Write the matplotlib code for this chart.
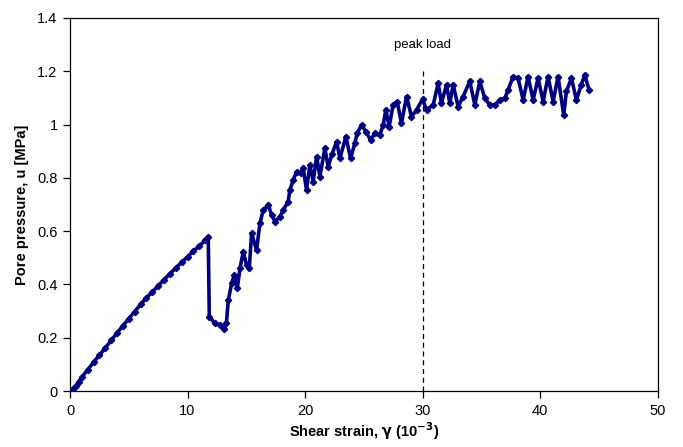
import matplotlib
matplotlib.use("Agg")
import matplotlib.pyplot as plt
from matplotlib.ticker import FuncFormatter

# Shear strain (10^-3)
strain = [0.0, 0.25, 0.5, 0.75, 1.0, 1.5, 2.0, 2.5, 3.0, 3.5, 4.0, 4.5, 5.0, 5.5, 6.0,
          6.5, 7.0, 7.5, 8.0, 8.5, 9.0, 9.5, 10.0, 10.5, 11.0, 11.5, 11.76,
          11.85, 12.33, 12.76, 13.1, 13.3, 13.47, 13.75, 13.97, 14.23, 14.46, 14.74,
          15.02, 15.25, 15.45, 15.87, 16.16, 16.44, 16.87, 17.15, 17.43, 17.86, 18.14,
          18.56, 18.71, 18.99, 19.28, 19.61, 19.84, 20.12, 20.41, 20.69, 20.98, 21.26,
          21.68, 21.96, 22.3, 22.68, 22.96, 23.47, 23.87, 24.23, 24.43, 24.8, 25.17,
          25.57, 25.94, 26.36, 26.64, 26.87, 27.15, 27.49, 27.83, 28.2, 28.63, 29.05,
          29.48, 30.0, 30.33, 30.9, 31.32, 31.6, 32.03, 32.31, 32.6, 33.02, 33.44,
          34.01, 34.44, 34.86, 35.29, 35.71, 36.14, 36.56, 36.99, 37.27, 37.7, 38.12,
          38.55, 38.97, 39.4, 39.82, 40.25, 40.67, 41.1, 41.52, 42.0, 42.23, 42.66,
          43.08, 43.5, 43.79, 44.16]
# Pore pressure u (MPa)
pressure = [0.0, 0.008, 0.02, 0.036, 0.052, 0.08, 0.108, 0.135, 0.162, 0.19, 0.218,
            0.245, 0.272, 0.298, 0.325, 0.35, 0.372, 0.395, 0.418, 0.44, 0.462, 0.483,
            0.504, 0.525, 0.545, 0.565, 0.578,
            0.279, 0.254, 0.248, 0.232, 0.254, 0.342, 0.404, 0.435, 0.385, 0.46, 0.523,
            0.473, 0.46, 0.592, 0.529, 0.63, 0.679, 0.698, 0.661, 0.636, 0.654, 0.679,
            0.711, 0.755, 0.792, 0.823, 0.817, 0.836, 0.755, 0.848, 0.786, 0.88, 0.805,
            0.911, 0.842, 0.89, 0.936, 0.873, 0.955, 0.873, 0.929, 0.967, 0.998, 0.973,
            0.942, 0.967, 0.961, 0.998, 1.055, 0.992, 1.074, 1.086, 1.005, 1.105, 1.03,
            1.055, 1.095, 1.055, 1.074, 1.155, 1.08, 1.149, 1.08, 1.149, 1.067, 1.105,
            1.162, 1.074, 1.162, 1.098, 1.074, 1.074, 1.092, 1.098, 1.13, 1.18, 1.174,
            1.092, 1.18, 1.092, 1.174, 1.086, 1.18, 1.086, 1.18, 1.036, 1.124, 1.174,
            1.092, 1.15, 1.186, 1.13]

x_ticks = [0, 10, 20, 30, 40, 50]
y_ticks = [0, 0.2, 0.4, 0.6, 0.8, 1.0, 1.2, 1.4]
peak_strain = 30
peak_top = 1.21
annot_text = "peak load"

plt.rcParams['font.family'] = ['Liberation Sans', 'DejaVu Sans']

fig = plt.figure(figsize=(6.83, 4.47), dpi=100)
ax = fig.add_axes([0.1025, 0.125, 0.8605, 0.835])

navy = '#000080'
ax.plot(strain, pressure, color=navy, lw=2.6, marker='D', ms=3.2,
        markerfacecolor=navy, markeredgecolor=navy, zorder=3,
        solid_joinstyle='round')
ax.plot([peak_strain, peak_strain], [0, peak_top], color='black', lw=0.9,
        ls=(0, (4, 3)), zorder=2)
ax.text(peak_strain, 1.30, annot_text, ha='center', va='center', fontsize=9.5)

ax.set_xlim(0, 50)
ax.set_ylim(0, 1.4)
ax.set_xticks(x_ticks)
ax.set_yticks(y_ticks)
ax.yaxis.set_major_formatter(FuncFormatter(lambda v, p: f"{v:g}"))
ax.tick_params(direction='out', length=5, width=0.9, labelsize=10.5, pad=4,
               top=False, right=False)
for s in ax.spines.values():
    s.set_linewidth(0.9)
    s.set_color('black')

ax.set_xlabel(r"Shear strain, $\mathbf{\gamma}$ (10$^{\mathbf{-3}}$)", fontsize=10.5,
              fontweight='bold', labelpad=2)
ax.set_ylabel("Pore pressure, u [MPa]", fontsize=10.5, fontweight='bold', labelpad=6)

fig.savefig("out.png", dpi=100)
